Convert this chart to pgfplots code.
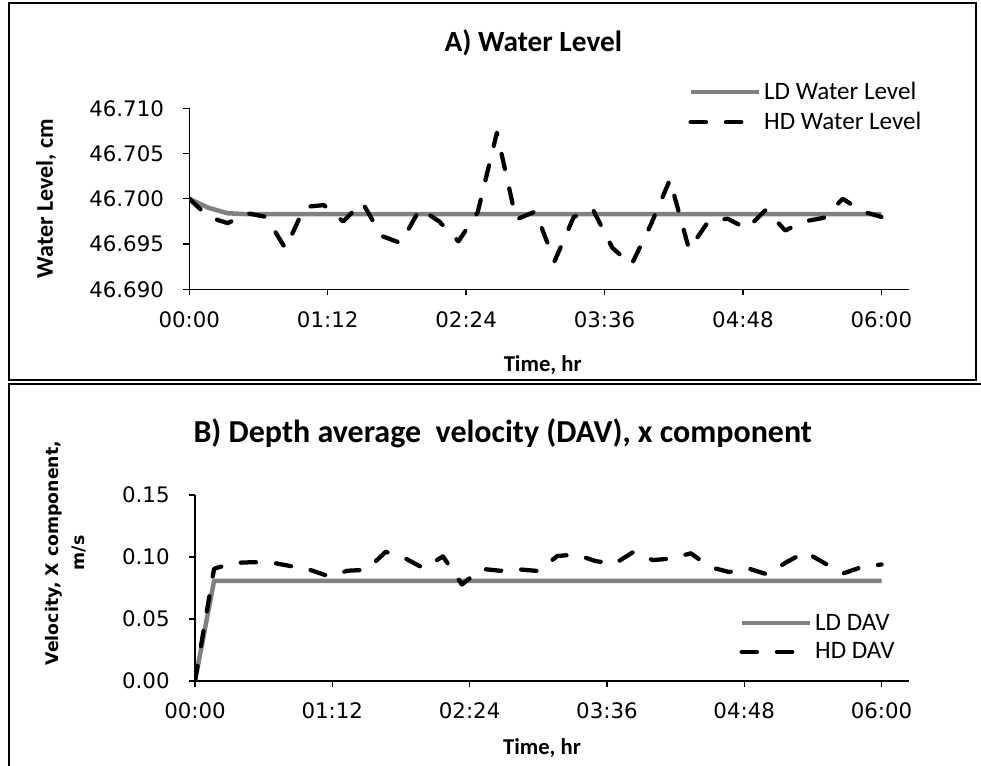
\documentclass[border=0pt]{standalone}
\usepackage{fontspec}
\setmainfont{Carlito}
\newfontfamily\dejavu{DejaVu Sans}
\usepackage{pgfplots}
\usepackage{pgfplotstable}
\pgfplotsset{compat=1.18}
\definecolor{ldgray}{RGB}{128,128,128}

\pgfplotstableread{
t ld hd
0 46.7000 46.7000
10 46.6990 46.6980
20 46.6984 46.6973
30 46.6983 46.6984
40 46.6983 46.6980
50 46.6983 46.6945
60 46.6983 46.6991
70 46.6983 46.6993
80 46.6983 46.6975
90 46.6983 46.6996
100 46.6983 46.6959
110 46.6983 46.6951
120 46.6983 46.6989
130 46.6983 46.6975
140 46.6983 46.6953
150 46.6983 46.6985
160 46.6983 46.7073
170 46.6983 46.6977
180 46.6983 46.6986
190 46.6983 46.6931
200 46.6983 46.6980
210 46.6983 46.6988
220 46.6983 46.6946
230 46.6983 46.6927
240 46.6983 46.6971
250 46.6983 46.7021
260 46.6983 46.6944
270 46.6983 46.6975
280 46.6983 46.6978
290 46.6983 46.6967
300 46.6983 46.6988
310 46.6983 46.6965
320 46.6983 46.6975
330 46.6983 46.6979
340 46.6983 46.7000
350 46.6983 46.6986
360 46.6983 46.6980
}\wltable

\pgfplotstableread{
t ld hd
0 0 0
10 0.0808 0.0905
20 0.0808 0.0952
30 0.0808 0.0958
40 0.0808 0.0956
50 0.0808 0.0927
60 0.0808 0.0898
70 0.0808 0.0845
80 0.0808 0.0889
90 0.0808 0.0897
100 0.0808 0.1042
110 0.0808 0.0991
120 0.0808 0.0908
130 0.0808 0.1005
140 0.0808 0.0778
150 0.0808 0.0905
160 0.0808 0.0889
170 0.0808 0.0900
180 0.0808 0.0887
190 0.0808 0.1008
200 0.0808 0.1020
210 0.0808 0.0967
220 0.0808 0.0945
230 0.0808 0.1042
240 0.0808 0.0975
250 0.0808 0.0988
260 0.0808 0.1030
270 0.0808 0.0919
280 0.0808 0.0879
290 0.0808 0.0908
300 0.0808 0.0860
310 0.0808 0.0957
320 0.0808 0.1040
330 0.0808 0.0951
340 0.0808 0.0868
350 0.0808 0.0921
360 0.0808 0.0940
}\davtable

\pgfplotsset{
  panel/.style={
    scale only axis,
    axis x line*=bottom, axis y line*=left,
    axis line style={line width=1pt, black},
    tick align=outside,
    major tick length=4.5pt,
    every tick/.style={black, line width=1pt},
    xmin=0, xmax=374.4,
    xtick={0,72,144,216,288,360},
    xticklabels={00:00,01:12,02:24,03:36,04:48,06:00},
    tick label style={font=\dejavu\fontsize{16}{19}\selectfont},
    xticklabel style={yshift=-8.5pt},
    /pgf/number format/assume math mode=true,
    scaled y ticks=false,
    label style={font=\bfseries\fontsize{17}{21}\selectfont},
    title style={font=\bfseries\fontsize{22}{26}\selectfont, anchor=center},
    legend style={draw=none, fill=none, font=\fontsize{18.8}{22}\selectfont,
      row sep=4pt, inner sep=0pt, anchor=north west},
    legend cell align=left,
    legend image code/.code={\draw[##1] (1.5pt,0pt) -- (53pt,0pt);},
    ldstyle/.style={ldgray, line width=3.4pt, line join=round},
    hdstyle/.style={black, line width=3.2pt, line cap=round, line join=round,
      dash pattern=on 11.5pt off 15pt},
  }
}

\begin{document}
\begin{tikzpicture}
\useasboundingbox (0pt,0pt) rectangle (735.75pt,574.5pt);
\draw[line width=1.5pt] (6.75pt,572.25pt) rectangle (732pt,289.5pt);
\draw[line width=1.5pt] (6.75pt,286.5pt) rectangle (742.5pt,-6.75pt);

\begin{axis}[panel,
  at={(141.975pt,357.525pt)}, anchor=south west,
  width=539.8pt, height=135.75pt,
  ymin=46.69, ymax=46.71,
  ytick={46.69,46.695,46.7,46.705,46.71},
  yticklabel style={xshift=-11pt, /pgf/number format/.cd, fixed, fixed zerofill, precision=3},
  title={A) Water Level},
  title style={at={(axis description cs:0.478,1.319)}},
  xlabel={Time, hr},
  xlabel style={at={(axis description cs:0.491,-0.418)}, anchor=center},
  ylabel={Water Level, cm},
  ylabel style={at={(axis description cs:-0.199,0.5)}, anchor=center,
    font=\bfseries\fontsize{18}{21}\selectfont},
  legend style={at={(axis description cs:0.693,1.159)}},
]
\addplot[ldstyle] table[x=t,y=ld] {\wltable};
\addlegendentry{LD Water Level}
\addplot[hdstyle] table[x=t,y=hd] {\wltable};
\addlegendentry{HD Water Level}
\end{axis}

\begin{axis}[panel,
  at={(146.25pt,63.75pt)}, anchor=south west,
  width=535.5pt, height=139.5pt,
  ymin=0, ymax=0.15,
  ytick={0,0.05,0.1,0.15},
  yticklabel style={xshift=-11pt, /pgf/number format/.cd, fixed, fixed zerofill, precision=2},
  title={B) Depth average\ \ velocity (DAV), x component},
  title style={at={(axis description cs:0.431,1.290)},
    font=\bfseries\fontsize{24}{28}\selectfont},
  xlabel={Time, hr},
  xlabel style={at={(axis description cs:0.486,-0.36)}, anchor=center},
  ylabel={Velocity, X component,\\ m/s},
  ylabel style={at={(axis description cs:-0.181,0.688)}, anchor=center, align=center,
    font=\dejavu\bfseries\fontsize{13}{19.5}\selectfont},
  legend style={at={(axis description cs:0.762,0.376)}},
]
\addplot[ldstyle] table[x=t,y=ld] {\davtable};
\addlegendentry{LD DAV}
\addplot[hdstyle] table[x=t,y=hd] {\davtable};
\addlegendentry{HD DAV}
\end{axis}
\end{tikzpicture}
\end{document}
